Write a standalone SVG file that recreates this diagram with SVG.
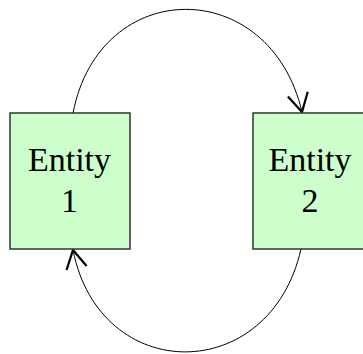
<svg xmlns="http://www.w3.org/2000/svg" width="363" height="354" viewBox="0 0 363 354">
<style>
.box{fill:#ccffcc;stroke:#333333;stroke-width:1.5}
.lbl{font-family:"Liberation Serif","Times New Roman",serif;font-size:34px;fill:#000;text-anchor:middle}
.edge{fill:none;stroke:#000;stroke-width:1}
</style>
<defs>
<marker id="arr" markerUnits="userSpaceOnUse" markerWidth="40" markerHeight="40" viewBox="-25 -20 30 40" refX="0" refY="0" orient="auto">
<path d="M-18.4,-10.2 L0,0 L-18.4,10.2" fill="none" stroke="#000" stroke-width="2.2"/>
</marker>
</defs>
<rect width="363" height="354" fill="#ffffff"/>
<g id="edges">
<path class="edge" d="M73,113 C100,-25 270,-25 302,112" marker-end="url(#arr)"/>
<path class="edge" d="M301,249 C270,386 100,386 73,250" marker-end="url(#arr)"/>
</g>
<g id="entity1">
<rect class="box" x="10" y="113" width="120" height="136"/>
<text class="lbl" x="69.5" y="171">Entity</text>
<text class="lbl" x="69.5" y="212">1</text>
</g>
<g id="entity2">
<rect class="box" x="253" y="113" width="120" height="136"/>
<text class="lbl" x="310" y="171">Entity</text>
<text class="lbl" x="310" y="212">2</text>
</g>
</svg>
